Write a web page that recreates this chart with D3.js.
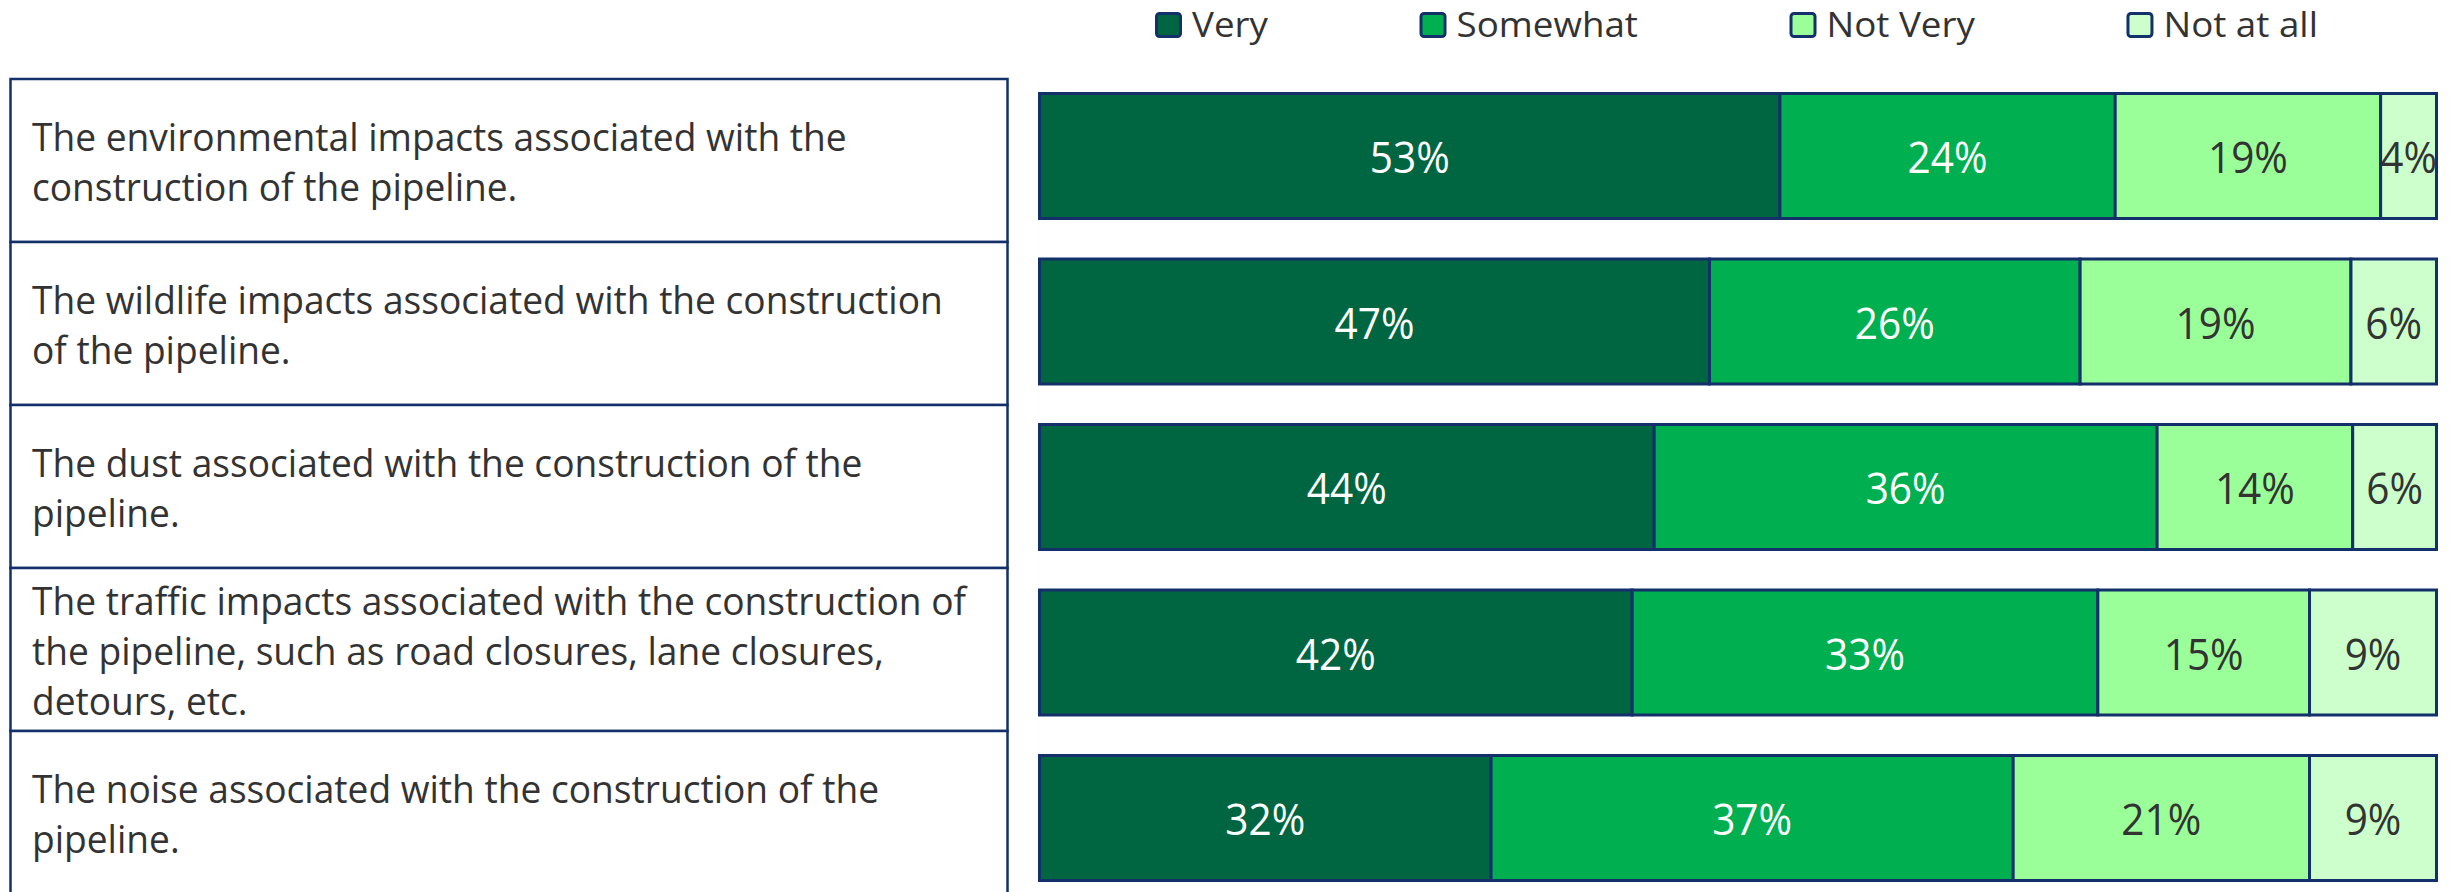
<!DOCTYPE html>
<html><head><meta charset="utf-8">
<script src="https://cdn.jsdelivr.net/npm/d3@7"></script>
<style>body{margin:0;background:#fff}svg{display:block}</style>
</head><body><svg id="c" width="2450" height="892"></svg>
<script>
// ---- data ----
const categories = [
  "The environmental impacts associated with the\nconstruction of the pipeline.",
  "The wildlife impacts associated with the construction\nof the pipeline.",
  "The dust associated with the construction of the\npipeline.",
  "The traffic impacts associated with the construction of\nthe pipeline, such as road closures, lane closures,\ndetours, etc.",
  "The noise associated with the construction of the\npipeline."
];
const seriesNames = ["Very", "Somewhat", "Not Very", "Not at all"];
const very     = [53, 47, 44, 42, 32];
const somewhat = [24, 26, 36, 33, 37];
const notVery  = [19, 19, 14, 15, 21];
const notAtAll = [4, 6, 6, 9, 9];

// ---- styles ----
const colors = ["#006641", "#00AF50", "#9BFF99", "#CCFFCC"];
const labelColors = ["#ffffff", "#ffffff", "#333333", "#333333"];
const navy = "#13306B";
const font = "'Open Sans', sans-serif";

const svg = d3.select("#c");
const rows = categories.map((c, i) => ({
  cat: c, "Very": very[i], "Somewhat": somewhat[i], "Not Very": notVery[i], "Not at all": notAtAll[i]
}));
const stacked = d3.stack().keys(seriesNames).offset(d3.stackOffsetExpand)(rows);

// scales
const x = d3.scaleLinear().domain([0, 1]).range([1039.5, 2436.5]);
const y = d3.scaleBand().domain(categories).range([73.25, 900.75]).paddingInner(0.2266).paddingOuter(0.1133);
const yBox = d3.scaleBand().domain(categories).range([79, 894]).padding(0);
const color = d3.scaleOrdinal().domain(seriesNames).range(colors);

// helper to measure and compress text horizontally (Calibri-like widths)
function measure(str, size) {
  const t = svg.append("text").attr("font-family", font).attr("font-size", size).text(str);
  const w = t.node().getComputedTextLength();
  t.remove();
  return w;
}
const labelSize = 38, pctSize = 43, legSize = 35;
const kLabel = 815 / measure("The environmental impacts associated with the", labelSize);
const kPct = 80 / measure("53%", pctSize);
const kLeg = 76 / measure("Very", legSize);

// ---- left label boxes ----
const boxes = svg.append("g");
boxes.selectAll("rect").data(categories).join("rect")
  .attr("x", 10.5).attr("y", d => yBox(d))
  .attr("width", 997).attr("height", yBox.bandwidth())
  .attr("fill", "#fff").attr("stroke", navy).attr("stroke-width", 2.5);

const lineGap = 50, capH = 27;
categories.forEach(c => {
  const lines = c.split("\n");
  const cy = yBox(c) + yBox.bandwidth() / 2;
  const b1 = cy - ((lines.length - 1) * lineGap - capH) / 2 + 2;
  lines.forEach((ln, j) => {
    svg.append("text")
      .attr("transform", `translate(32,${b1 + j * lineGap}) scale(${kLabel},1)`)
      .attr("font-family", font).attr("font-size", labelSize)
      .attr("fill", "#333333").text(ln);
  });
});

// ---- bars ----
const g = svg.append("g");
const layers = g.selectAll("g.layer").data(stacked).join("g").attr("class", "layer")
  .attr("fill", d => color(d.key));
layers.selectAll("rect").data(d => d).join("rect")
  .attr("x", d => x(d[0])).attr("width", d => x(d[1]) - x(d[0]))
  .attr("y", d => y(d.data.cat) + 1.5).attr("height", y.bandwidth() - 3)
  .attr("stroke", navy).attr("stroke-width", 3);

stacked.forEach((layer, si) => {
  layer.forEach(d => {
    const cx = (x(d[0]) + x(d[1])) / 2;
    const cy = y(d.data.cat) + y.bandwidth() / 2;
    svg.append("text")
      .attr("transform", `translate(${cx},${cy + 17}) scale(${kPct},1)`)
      .attr("text-anchor", "middle")
      .attr("font-family", font).attr("font-size", pctSize)
      .attr("fill", labelColors[si])
      .text(Math.round(d.data[layer.key]) + "%");
  });
});

// ---- legend ----
let lx = 1156.5;
seriesNames.forEach((s, i) => {
  svg.append("rect").attr("x", lx).attr("y", 13.5).attr("width", 24).attr("height", 23)
    .attr("rx", 3).attr("fill", color(s)).attr("stroke", navy).attr("stroke-width", 3);
  const tx = lx + 35.5;
  svg.append("text")
    .attr("transform", `translate(${tx},37) scale(${kLeg},1)`)
    .attr("font-family", font).attr("font-size", legSize).attr("fill", "#333333").text(s);
  lx = tx + measure(s, legSize) * kLeg + 153;
});
</script>
</body></html>
